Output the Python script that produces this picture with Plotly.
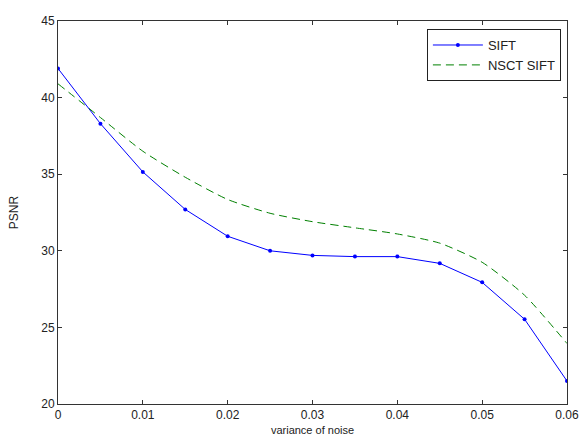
import plotly.graph_objects as go

noise_var = [0, 0.005, 0.01, 0.015, 0.02, 0.025, 0.03, 0.035, 0.04, 0.045, 0.05, 0.055, 0.06]
psnr_sift = [41.9, 38.3, 35.15, 32.7, 30.95, 30.0, 29.7, 29.62, 29.62, 29.18, 27.94, 25.53, 21.5]
psnr_nsct_sift = [40.9, 38.7, 36.5, 34.8, 33.35, 32.45, 31.9, 31.5, 31.1, 30.5, 29.25, 27.1, 23.95]

fig = go.Figure()
fig.add_trace(go.Scatter(
    x=noise_var, y=psnr_sift, name="SIFT", mode="lines+markers",
    line=dict(color="#0000ff", width=1),
    marker=dict(symbol="circle", size=4, color="#0000ff"),
))
fig.add_trace(go.Scatter(
    x=noise_var, y=psnr_nsct_sift, name="NSCT SIFT", mode="lines",
    line=dict(color="#008000", width=1, dash="8px,5px", shape="spline", smoothing=0.6),
))

axis_style = dict(
    showline=True, linecolor="#333333", linewidth=1, mirror="ticks",
    ticks="inside", ticklen=4, tickcolor="#333333",
    showgrid=False, zeroline=False,
    tickfont=dict(family="Arial", size=12, color="#222222"),
)

fig.update_layout(
    width=581, height=441,
    paper_bgcolor="white", plot_bgcolor="white",
    margin=dict(l=58, r=14, t=21, b=37),
    font=dict(family="Arial", size=11, color="#222222"),
    xaxis=dict(range=[0, 0.06], tickvals=[0, 0.01, 0.02, 0.03, 0.04, 0.05, 0.06],
               ticktext=["0", "0.01", "0.02", "0.03", "0.04", "0.05", "0.06"],
               title=dict(text="variance of noise", standoff=4, font=dict(size=11)),
               automargin=False, **axis_style),
    yaxis=dict(range=[20, 45], tickvals=[20, 25, 30, 35, 40, 45],
               title=dict(text="PSNR", standoff=20, font=dict(size=12)),
               automargin=False, **axis_style),
    legend=dict(x=0.988, y=0.979, xanchor="right", yanchor="top",
                bgcolor="white", bordercolor="#222222", borderwidth=1,
                font=dict(family="Arial", size=13, color="#222222"),
                tracegroupgap=0, itemwidth=50),
    showlegend=True,
)

# page body has a default 8px margin; drop it so the figure sits at 0,0
fig.write_html("out.html", config={"displayModeBar": False},
               post_script="document.body.style.margin='0';")
